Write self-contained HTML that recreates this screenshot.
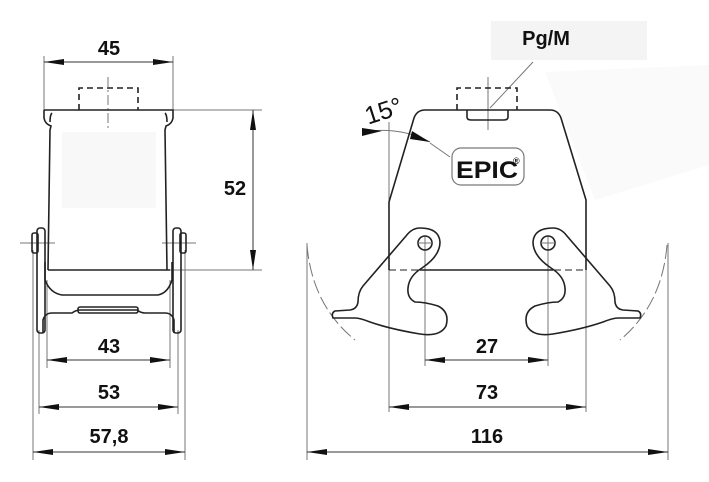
<!DOCTYPE html>
<html><head><meta charset="utf-8"><style>
html,body{margin:0;padding:0;background:#fff;width:709px;height:482px;overflow:hidden}
text{font-family:"Liberation Sans",sans-serif;font-weight:bold;fill:#111}
</style></head><body>
<svg width="709" height="482" viewBox="0 0 709 482" xmlns="http://www.w3.org/2000/svg">
<defs>
<marker id="a" viewBox="0 0 20 8" refX="20" refY="4" markerWidth="20" markerHeight="8" markerUnits="userSpaceOnUse" orient="auto-start-reverse"><path d="M0,1 L20,4 L0,7 Z" fill="#111"/></marker>
</defs>
<rect x="62" y="132" width="94" height="76" fill="#f8f8f8"/>
<rect x="491" y="21" width="156" height="39" fill="#f4f4f4"/>
<polygon points="545,72 709,65 709,165 595,200" fill="#fafafa"/>

<g fill="none" stroke="#777" stroke-width="1">
<line x1="44" y1="56" x2="44" y2="110"/><line x1="173" y1="56" x2="173" y2="110"/>
<line x1="173" y1="110" x2="262" y2="110"/><line x1="170" y1="270" x2="262" y2="270"/>
<line x1="47" y1="280" x2="47" y2="368"/><line x1="170" y1="280" x2="170" y2="368"/>
<line x1="39" y1="330" x2="39" y2="414"/><line x1="178" y1="330" x2="178" y2="414"/>
<line x1="33" y1="250" x2="33" y2="460"/><line x1="185" y1="250" x2="185" y2="460"/>
<line x1="108" y1="77" x2="108" y2="130" stroke-dasharray="10,3,2,3"/>
<line x1="20" y1="243" x2="55" y2="243"/><line x1="162" y1="243" x2="196" y2="243"/>
<line x1="389" y1="122" x2="389" y2="412"/><line x1="586" y1="200" x2="586" y2="412"/>
<line x1="425" y1="236" x2="425" y2="366"/><line x1="548" y1="236" x2="548" y2="366"/>
<line x1="307" y1="243" x2="307" y2="460"/><line x1="668" y1="243" x2="668" y2="460"/>
<line x1="488" y1="77" x2="488" y2="130"/>
<line x1="533" y1="62" x2="490" y2="108"/>
<path d="M362,132 Q400,126 430,142"/>
<line x1="430" y1="143" x2="450" y2="157"/>
<path d="M307,245 Q312,305 355,340" stroke-dasharray="14,4"/>
<path d="M667,245 Q662,305 620,340" stroke-dasharray="14,4"/>
</g>

<g stroke="#333" stroke-width="1" fill="none">
<line x1="44" y1="62" x2="173" y2="62" marker-start="url(#a)" marker-end="url(#a)"/>
<line x1="253" y1="110" x2="253" y2="270" marker-start="url(#a)" marker-end="url(#a)"/>
<line x1="47" y1="360" x2="170" y2="360" marker-start="url(#a)" marker-end="url(#a)"/>
<line x1="39" y1="407" x2="178" y2="407" marker-start="url(#a)" marker-end="url(#a)"/>
<line x1="33" y1="452" x2="185" y2="452" marker-start="url(#a)" marker-end="url(#a)"/>
<line x1="425" y1="360" x2="548" y2="360" marker-start="url(#a)" marker-end="url(#a)"/>
<line x1="389" y1="407" x2="586" y2="407" marker-start="url(#a)" marker-end="url(#a)"/>
<line x1="307" y1="452" x2="668" y2="452" marker-start="url(#a)" marker-end="url(#a)"/>
</g>
<path d="M362,128 L382,131 L362,136Z" fill="#111"/>
<path d="M430,142 L412,131 L410,139Z" fill="#111"/>

<g fill="none" stroke="#222" stroke-width="1.6">
<path d="M44,110 L173,110 L173,118 Q172,124 166,126 L165,130 L167,270 M44,110 L44,118 Q45,124 51,126 L50,130 L48,270"/>
<path d="M52,113 Q50,115 50,122 M165,113 Q167,115 167,122"/>
<line x1="48" y1="270" x2="170" y2="270"/>
<path d="M79,110 L79,88 L138,88 L138,110" stroke-dasharray="6,4"/>
<path d="M45,262 L45,280 Q50,293 62,295 L158,295 Q168,293 172,280 L172,262"/>
<path d="M43,333 L43,320 Q45,313 52,313 L72,313 Q76,310 80,310 L137,310 Q141,313 145,313 L165,313 Q172,313 174,320 L174,333"/>
<rect x="78" y="307" width="60" height="6" rx="2"/>
<rect x="37" y="228" width="8" height="105" rx="3"/>
<rect x="173" y="228" width="8" height="105" rx="3"/>
<rect x="32" y="233" width="6" height="20" rx="2"/>
<rect x="180" y="233" width="6" height="20" rx="2"/>
</g>

<g fill="none" stroke="#222" stroke-width="1.6">
<path d="M389,270 L389,202 L414,118 Q417,110 425,110 L550,110 Q558,110 561,118 L586,200 L586,270"/>
<path d="M457,110 L457,88 L517,88 L517,110" stroke-dasharray="6,4"/>
<path d="M467,110 L467,117 Q467,120 471,120 L504,120 Q508,120 508,117 L508,110"/>
<rect x="452" y="148" width="72" height="37" rx="9" stroke="#777" stroke-width="1.2"/>
<line x1="389" y1="270" x2="586" y2="270" stroke-dasharray="7,4" stroke-width="1"/>
<line x1="420" y1="270" x2="553" y2="270"/>
<g id="lv">
<path d="M420,228 Q412,228 406,236 L363,286 Q358,292 358,302 Q357,309 350,310 L335,311 Q331,313 333,318 L355,318 Q360,318 370,322 Q390,329 420,334 Q440,337 446,326 Q450,312 438,306 Q425,302 415,302 Q407,298 408,288 Q409,276 422,268 Q440,256 440,242 Q439,228 420,228 Z"/>
<circle cx="425" cy="243" r="7"/>
</g>
<use href="#lv" transform="translate(973,0) scale(-1,1)"/>
</g>
<g stroke="#777" stroke-width="1"><line x1="418" y1="243" x2="432" y2="243"/><line x1="541" y1="243" x2="555" y2="243"/></g>

<text x="109" y="55" font-size="20" text-anchor="middle">45</text>
<text x="235" y="195" font-size="20" text-anchor="middle">52</text>
<text x="109" y="353" font-size="20" text-anchor="middle">43</text>
<text x="109" y="399" font-size="20" text-anchor="middle">53</text>
<text x="109" y="443" font-size="20" text-anchor="middle">57,8</text>
<text x="487" y="353" font-size="20" text-anchor="middle">27</text>
<text x="487" y="399" font-size="20" text-anchor="middle">73</text>
<text x="487" y="443" font-size="20" text-anchor="middle">116</text>
<text x="546" y="45" font-size="20" text-anchor="middle">Pg/M</text>
<text x="456" y="178" font-size="24" textLength="62" lengthAdjust="spacingAndGlyphs">EPIC</text>
<text x="513" y="164" font-size="9">®</text>
<text x="364" y="121" font-size="25" style="font-weight:normal" transform="rotate(-18 378 110)">15°</text>
</svg>
</body></html>
